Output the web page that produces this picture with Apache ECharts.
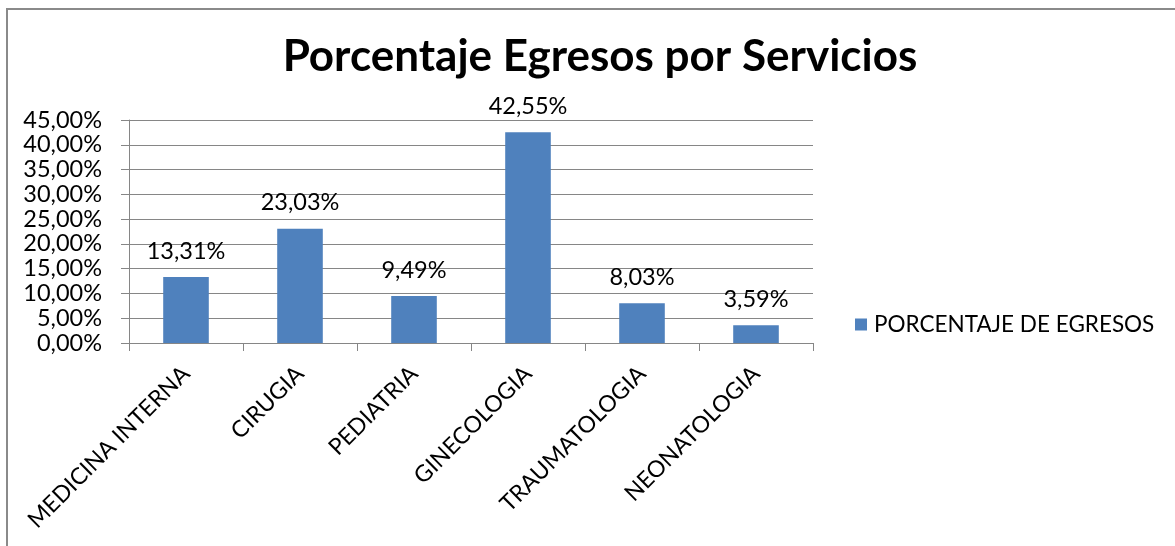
<!DOCTYPE html>
<html>
<head>
<meta charset="utf-8">
<script src="https://cdn.jsdelivr.net/npm/echarts@6/dist/echarts.min.js"></script>
<style>
html,body{margin:0;padding:0;background:#fff;}
#c{width:1175px;height:546px;}
</style>
</head>
<body>
<div id="c"></div>
<script>
const categories = ['MEDICINA INTERNA','CIRUGIA','PEDIATRIA','GINECOLOGIA','TRAUMATOLOGIA','NEONATOLOGIA'];
const values = [13.31, 23.03, 9.49, 42.55, 8.03, 3.59];
const seriesName = 'PORCENTAJE DE EGRESOS';
const titleText = 'Porcentaje Egresos por Servicios';

const fmt = v => v.toFixed(2).replace('.', ',') + '%';
const chart = echarts.init(document.getElementById('c'));
chart.setOption({
  animation: false,
  textStyle: { fontFamily: 'Lato' },
  graphic: [{
    type: 'rect', shape: { x: 7, y: 9, width: 1300, height: 700 },
    style: { fill: 'none', stroke: '#8a8a8a', lineWidth: 2 }, silent: true
  }],
  title: {
    text: titleText, left: 595, textAlign: 'center', top: 30,
    textStyle: { fontFamily: 'Lato', fontWeight: 'bold', fontSize: 44, color: '#000' }
  },
  legend: {
    data: [seriesName], left: 850, top: 308, itemWidth: 12, itemHeight: 12, itemGap: 8,
    icon: 'rect',
    textStyle: { fontFamily: 'Lato', fontSize: 22.5, color: '#000', padding: [0,0,0,2] }
  },
  grid: { left: 129, right: 1175 - 813, top: 120, bottom: 546 - 343, containLabel: false },
  xAxis: {
    type: 'category', data: categories,
    axisLine: { lineStyle: { color: '#868686', width: 1 } },
    axisTick: { show: true, length: 8, alignWithLabel: false, lineStyle: { color: '#868686' } },
    axisLabel: { rotate: 45, interval: 0, fontFamily: 'Lato', fontSize: 23, color: '#000', margin: 27 }
  },
  yAxis: {
    type: 'value', min: 0, max: 45, interval: 5,
    axisLine: { show: true, lineStyle: { color: '#868686' } },
    axisTick: { show: true, inside: false, length: 8, lineStyle: { color: '#868686' } },
    splitLine: { show: true, lineStyle: { color: '#868686', width: 1 } },
    axisLabel: { formatter: v => fmt(v), fontFamily: 'Lato', fontSize: 23.5, color: '#000', margin: 27 }
  },
  series: [{
    name: seriesName, type: 'bar', data: values, barWidth: '40%',
    itemStyle: { color: '#4f81bd' },
    label: { show: true, position: 'top', distance: 14, formatter: p => fmt(p.value),
      fontFamily: 'Lato', fontSize: 23.5, color: '#000' }
  }]
});
</script>
</body>
</html>
